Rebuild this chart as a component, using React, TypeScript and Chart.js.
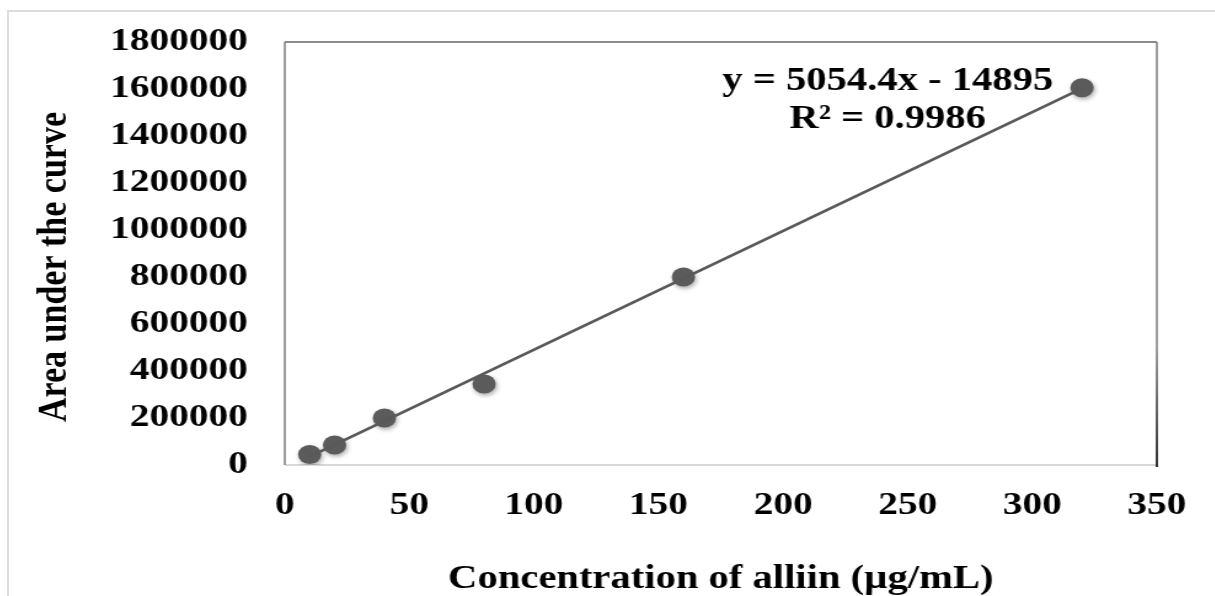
import React, { useEffect, useRef } from 'react';
import { Chart, registerables } from 'chart.js';

Chart.register(...registerables);

// ---- data ----
const concentrations = [10, 20, 40, 80, 160, 320];
const areas = [45000, 85000, 200000, 345000, 800000, 1605000];
const trendSlope = 5054.4;
const trendIntercept = -14895;
const trendRange = [10, 320];
const equationLines = ['y = 5054.4x - 14895', 'R\u00B2 = 0.9986'];
const xTickValues = [0, 50, 100, 150, 200, 250, 300, 350];
const yTickValues = [0, 200000, 400000, 600000, 800000, 1000000, 1200000, 1400000, 1600000, 1800000];
const xTitle = 'Concentration of alliin (\u00B5g/mL)';
const yTitle = 'Area under the curve';

// ---- layout / style ----
const STRETCH = 1.23;
const W = 981;
const H = 588;
const FONT_FAMILY = '"Liberation Serif", "Times New Roman", serif';
const FONT_SIZE = 32;
const EQ_FONT_SIZE = 33;
const X_TITLE_SIZE = 33;
const Y_TITLE_SIZE = 34;
const EQ_ANCHOR = { x: 242, y: 1630000 };
const Y_TITLE_POS = { x: 38, y: 259 };

const framePlugin = {
  id: 'plotFrame',
  beforeDatasetsDraw(chart: any) {
    const { ctx, chartArea } = chart;
    const { left, right, top, bottom } = chartArea;
    ctx.save();
    ctx.lineWidth = 2;
    ctx.strokeStyle = '#d9d9d9';
    ctx.beginPath();
    ctx.moveTo(left, bottom);
    ctx.lineTo(right, bottom);
    ctx.stroke();
    ctx.strokeStyle = '#8c8c8c';
    ctx.lineWidth = 2;
    ctx.beginPath();
    ctx.moveTo(left, top);
    ctx.lineTo(right, top);
    ctx.stroke();
    ctx.lineWidth = 1.7;
    ctx.beginPath();
    ctx.moveTo(left, bottom);
    ctx.lineTo(left, top);
    ctx.stroke();
    const g = ctx.createLinearGradient(0, top, 0, bottom);
    g.addColorStop(0, '#8c8c8c');
    g.addColorStop(0.72, '#8c8c8c');
    g.addColorStop(1, '#111111');
    ctx.strokeStyle = g;
    ctx.beginPath();
    ctx.moveTo(right, top);
    ctx.lineTo(right, bottom + 2);
    ctx.stroke();
    ctx.restore();
  },
};

const shadowPlugin = {
  id: 'pointShadow',
  beforeDatasetDraw(chart: any, args: any) {
    if (args.index === 1) {
      const ctx = chart.ctx;
      ctx.save();
      ctx.shadowColor = 'rgba(0,0,0,0.35)';
      ctx.shadowBlur = 4;
      ctx.shadowOffsetX = 1;
      ctx.shadowOffsetY = 2;
    }
  },
  afterDatasetDraw(chart: any, args: any) {
    if (args.index === 1) chart.ctx.restore();
  },
};

const textPlugin = {
  id: 'extraText',
  afterDraw(chart: any) {
    const { ctx, scales } = chart;
    const cx = scales.x.getPixelForValue(EQ_ANCHOR.x);
    const cy = scales.y.getPixelForValue(EQ_ANCHOR.y);
    ctx.save();
    ctx.font = `bold ${EQ_FONT_SIZE}px ${FONT_FAMILY}`;
    ctx.fillStyle = '#000';
    ctx.textAlign = 'center';
    ctx.textBaseline = 'middle';
    equationLines.forEach((t, i) => ctx.fillText(t, cx, cy + i * 38));
    ctx.restore();

    // y axis title
    ctx.save();
    ctx.translate(Y_TITLE_POS.x, Y_TITLE_POS.y);
    ctx.rotate(-Math.PI / 2);
    ctx.font = `bold ${Y_TITLE_SIZE}px ${FONT_FAMILY}`;
    ctx.fillStyle = '#000';
    ctx.textAlign = 'center';
    ctx.textBaseline = 'middle';
    ctx.fillText(yTitle, 0, 0);
    ctx.restore();
  },
};

export default function App() {
  const canvasRef = useRef<HTMLCanvasElement | null>(null);

  useEffect(() => {
    if (!canvasRef.current) return;
    const font = { family: FONT_FAMILY, size: FONT_SIZE, weight: 'bold' as const };
    const chart = new Chart(canvasRef.current, {
      type: 'scatter',
      data: {
        datasets: [
          {
            type: 'line',
            label: 'Linear fit',
            data: trendRange.map((x) => ({ x, y: trendSlope * x + trendIntercept })),
            borderColor: '#595959',
            borderWidth: 2.8,
            pointRadius: 0,
            fill: false,
          },
          {
            type: 'scatter',
            label: 'Area',
            data: concentrations.map((x, i) => ({ x, y: areas[i] })),
            backgroundColor: '#5b5b5b',
            borderColor: '#5b5b5b',
            borderWidth: 0,
            pointRadius: 9.5,
          },
        ],
      },
      options: {
        responsive: false,
        animation: false,
        events: [],
        layout: { padding: { top: 34, right: 47, bottom: 0, left: 0 } },
        plugins: {
          legend: { display: false },
          tooltip: { enabled: false },
          title: { display: false },
        },
        scales: {
          x: {
            type: 'linear',
            min: xTickValues[0],
            max: xTickValues[xTickValues.length - 1],
            afterBuildTicks: (scale: any) => {
              scale.ticks = xTickValues.map((v) => ({ value: v }));
            },
            ticks: {
              padding: 22,
              font,
              color: '#000',
              callback: (v: any) => String(v),
            },
            grid: { display: false, drawTicks: false },
            border: { display: false },
            title: {
              display: true,
              text: xTitle,
              font: { family: FONT_FAMILY, size: X_TITLE_SIZE, weight: 'bold', lineHeight: 1 },
              color: '#000',
              padding: { top: 0, bottom: 0 },
            },
            afterFit: (scale: any) => {
              scale.height = H - 457;
              scale.paddingLeft = 0;
              scale.paddingRight = 0;
            },
          },
          y: {
            type: 'linear',
            min: yTickValues[0],
            max: yTickValues[yTickValues.length - 1],
            afterBuildTicks: (scale: any) => {
              scale.ticks = yTickValues.map((v) => ({ value: v }));
            },
            ticks: {
              padding: 30,
              font,
              color: '#000',
              callback: (v: any) => String(v),
            },
            grid: { display: false, drawTicks: false },
            border: { display: false },
            title: { display: false },
            afterFit: (scale: any) => {
              scale.width = 225;
              scale.paddingTop = 0;
              scale.paddingBottom = 0;
            },
          },
        },
      },
      plugins: [framePlugin, shadowPlugin, textPlugin],
    } as any);
    return () => chart.destroy();
  }, []);

  return (
    <>
      <div
        style={{
          position: 'fixed',
          left: 7,
          top: 10,
          right: 0,
          bottom: 0,
          borderTop: '2px solid #dcdcdc',
          borderLeft: '2px solid #dcdcdc',
          boxSizing: 'border-box',
        }}
      />
      <div
        style={{
          position: 'fixed',
          left: 8,
          top: 8,
          width: W,
          height: H,
          transform: `scaleX(${STRETCH})`,
          transformOrigin: '0 0',
        }}
      >
        <canvas ref={canvasRef} width={W} height={H} style={{ display: 'block' }} />
      </div>
    </>
  );
}
